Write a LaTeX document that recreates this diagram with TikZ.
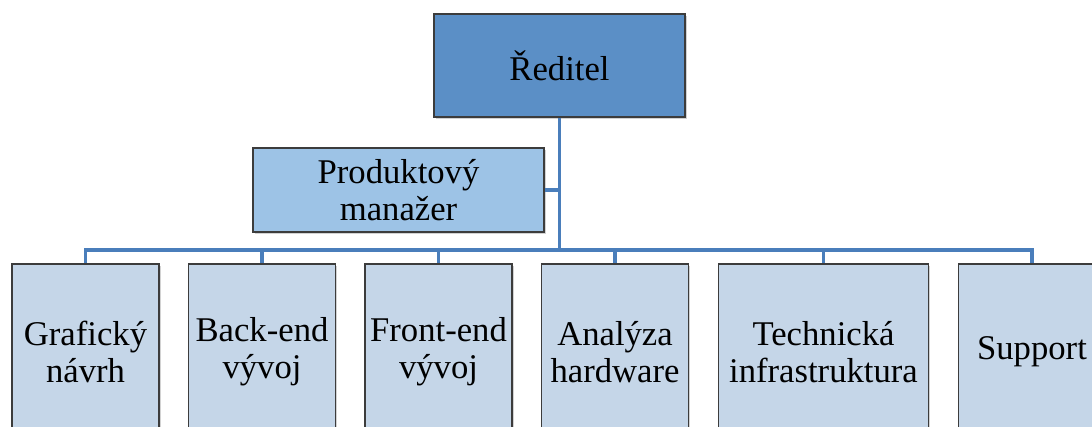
\documentclass[tikz,border=0pt]{standalone}
\usepackage{fontspec}
\setmainfont{Liberation Serif}
\usetikzlibrary{shadows}
\definecolor{linkblue}{HTML}{4A7EBB}
\definecolor{topfill}{HTML}{5B8FC6}
\definecolor{midfill}{HTML}{9DC3E6}
\definecolor{unitfill}{HTML}{C5D6E8}
\definecolor{boxline}{HTML}{3C3C3C}
\tikzset{
  orgbox/.style={draw=boxline, line width=1.1pt, rectangle, inner sep=0pt,
    align=center, font=\fontsize{26}{27.5}\selectfont,
    drop shadow={shadow xshift=1.2pt, shadow yshift=-1.2pt, opacity=0.35}},
  headbox/.style={orgbox, fill=topfill, minimum width=251*0.75pt, minimum height=103*0.75pt},
  managerbox/.style={orgbox, fill=midfill, minimum width=291*0.75pt, minimum height=84*0.75pt},
  unitbox/.style={orgbox, fill=unitfill, minimum width=147*0.75pt, minimum height=176*0.75pt},
  link/.style={draw=linkblue, line width=2.3pt}
}
\begin{document}
\begin{tikzpicture}[x=0.75pt, y=-0.75pt]
  \clip (0,0) rectangle (1092,427);
  \fill[white] (0,0) rectangle (1092,427);

  \coordinate (busL) at (86,250);
  \coordinate (busR) at (1032,250);
  \coordinate (trunk) at (559.5,250);

  % boxes
  \node[headbox] (head) at (559.5,65.5) {Ředitel};
  \node[managerbox] (pm) at (398.5,190) {Produktový\\manažer};
  \node[unitbox] (u1) at (85.5,352) {Grafický\\návrh};
  \node[unitbox] (u2) at (262,352) {Back-end\\vývoj};
  \node[unitbox] (u3) at (438.5,352) {Front-end\\vývoj};
  \node[unitbox] (u4) at (615,352) {Analýza\\hardware};
  \node[unitbox, minimum width=210*0.75pt] (u5) at (823.5,352) {Technická\\infrastruktura};
  \node[unitbox] (u6) at (1032,352) {Support};

  % tree lines
  \draw[link] (head.south) -- (trunk);
  \draw[link] (pm.east) -- (pm.east -| trunk);
  \draw[link, line cap=rect] (busL) -- (busR);
  \foreach \u in {u1,u2,u3,u4,u5,u6}
    \draw[link] (\u.north |- busL) -- (\u.north);
\end{tikzpicture}
\end{document}
